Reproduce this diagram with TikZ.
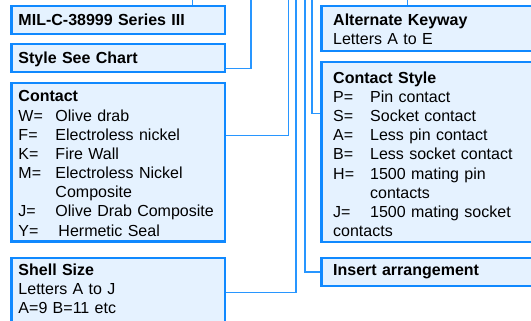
\documentclass[tikz,border=0pt]{standalone}
\usepackage{fontspec}
\setmainfont{Liberation Sans}
\usetikzlibrary{backgrounds}

\definecolor{boxblue}{RGB}{16,137,255}
\definecolor{boxfill}{RGB}{229,242,255}
\definecolor{wireblue}{RGB}{40,150,255}

\newcommand{\keyitem}[1]{\makebox[37pt][l]{#1}}

\begin{document}
\begin{tikzpicture}[x=1pt, y=-1pt,
	box/.style={draw=boxblue, fill=boxfill, line width=2.4pt, inner sep=0pt, outer sep=0pt, anchor=north west},
	wire/.style={draw=wireblue, line width=1.2pt},
	txt/.style={inner sep=0pt, anchor=base west, align=left, text width=200pt, font=\fontsize{16}{19.15}\selectfont}]
			\clip (0,0) rectangle (531,321);
			
			% left column
			\node[box, minimum width=213.7pt, minimum height=27.8pt] (mil) at (11.3,6.2) {};
			\node[box, minimum width=213.7pt, minimum height=28pt] (style) at (11.3,44) {};
			\node[box, minimum width=213.7pt, minimum height=158.5pt] (contact) at (11.3,82.8) {};
			\node[box, minimum width=213.7pt, minimum height=90pt] (shell) at (11.3,257.8) {};
			
			% right column
			\node[box, minimum width=260pt, minimum height=45.1pt] (alt) at (321.3,6.2) {};
			\node[box, minimum width=260pt, minimum height=180pt] (cstyle) at (321.3,62.2) {};
			\node[box, minimum width=260pt, minimum height=28.4pt] (insert) at (321.3,257.8) {};
			
			\node[txt] (mil-t) at (18.3,25.7) {\textbf{MIL-C-38999 Series III}};
			\node[txt] (style-t) at (18.3,64) {\textbf{Style See Chart}};
			\node[txt] (contact-t) at (18.3,102) {\textbf{Contact}\\
				\keyitem{W=}Olive drab\\
				\keyitem{F=}Electroless nickel\\
				\keyitem{K=}Fire Wall\\
				\keyitem{M=}Electroless Nickel\\
				\hspace*{37pt}Composite\\
				\keyitem{J=}Olive Drab Composite\\
				\makebox[40pt][l]{Y=}Hermetic Seal};
			\node[txt] (shell-t) at (18.3,275) {\textbf{Shell Size}\\
				Letters A to J\\
				A=9 B=11 etc};
			
			\node[txt] (alt-t) at (333,25.7) {\textbf{Alternate Keyway}\\
				Letters A to E};
			\node[txt] (cstyle-t) at (333,83.3) {\textbf{Contact Style}\\
				\keyitem{P=}Pin contact\\
				\keyitem{S=}Socket contact\\
				\keyitem{A=}Less pin contact\\
				\keyitem{B=}Less socket contact\\
				\keyitem{H=}1500 mating pin\\
				\hspace*{37pt}contacts\\
				\keyitem{J=}1500 mating socket\\
				contacts};
			\node[txt] (insert-t) at (333,275) {\textbf{Insert arrangement}};
			
			% free ends above the picture
			\coordinate (mil-up) at (192.5,-2);
			\coordinate (style-up) at (251,-2);
			\coordinate (contact-up) at (288.3,-2);
			\coordinate (shell-up) at (296,-2);
			\coordinate (insert-up) at (305,-2);
			\coordinate (cstyle-up) at (312,-2);
			\coordinate (alt-up) at (407.5,-2);
			
			\begin{scope}[on background layer]
			\draw[wire] (mil-up |- mil.north) -- (mil-up);
			\draw[wire] (style.east |- 0,68.2) -| (style-up);
			\draw[wire] (contact.east |- 0,135.2) -| (contact-up);
			\draw[wire] (shell.east |- 0,292.7) -| (shell-up);
			\draw[wire] (insert.west |- 0,272) -| (insert-up);
			\draw[wire] (cstyle.west |- 0,113.5) -| (cstyle-up);
			\draw[wire] (alt-up |- alt.north) -- (alt-up);
			\end{scope}
\end{tikzpicture}
\end{document}
